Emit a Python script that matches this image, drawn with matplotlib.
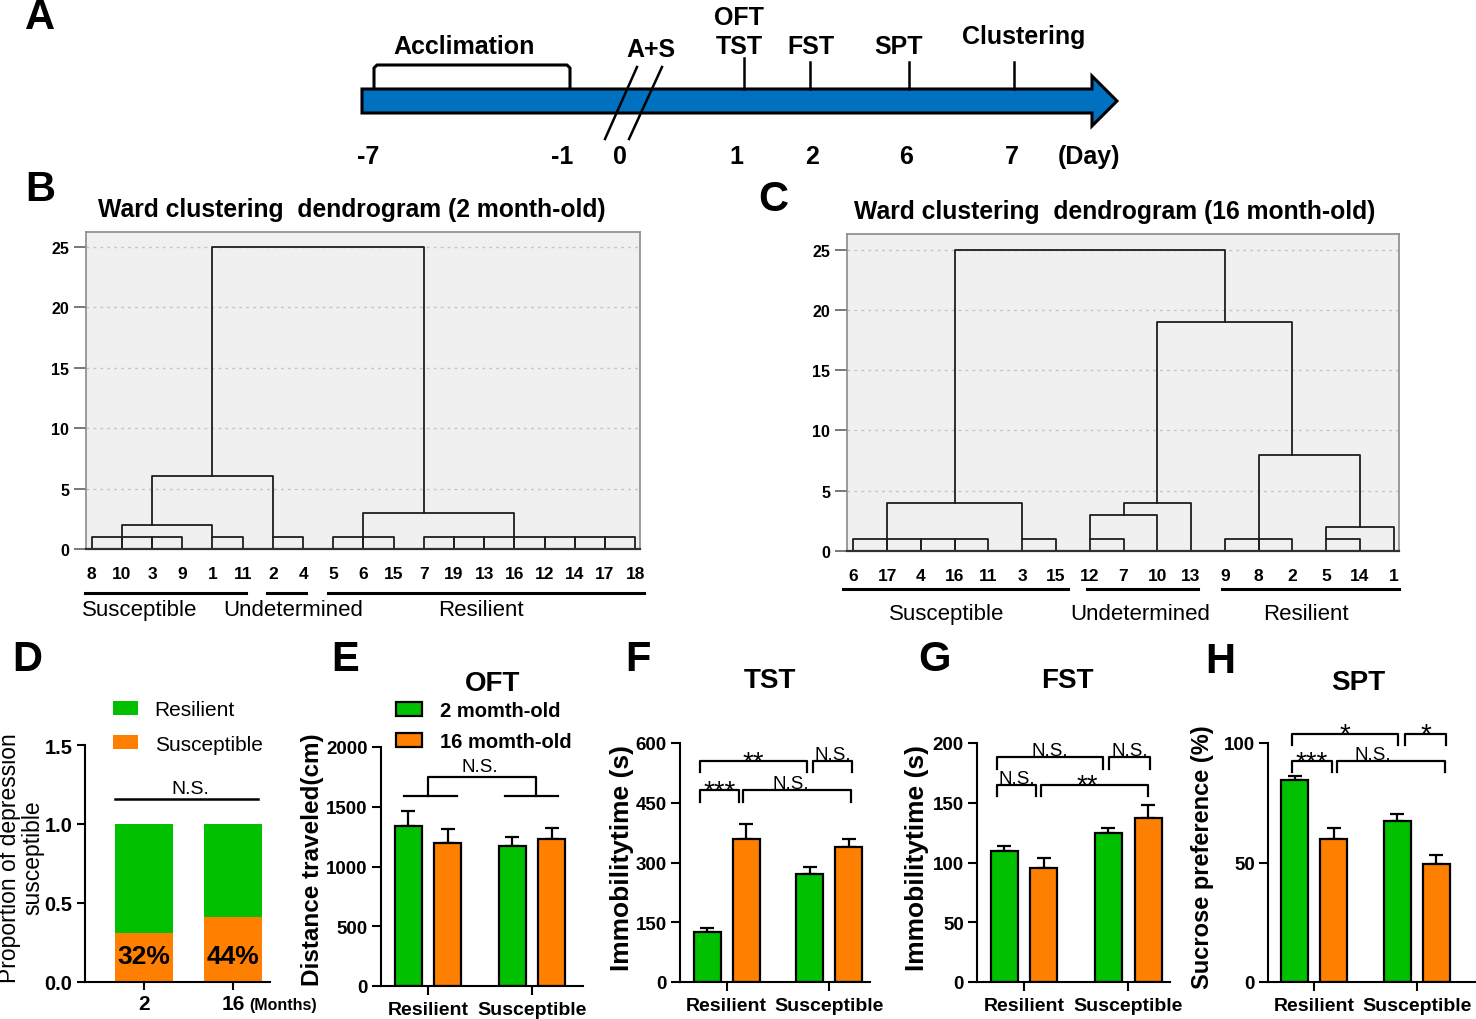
import matplotlib
matplotlib.use('Agg')
import matplotlib.pyplot as plt
import numpy as np
from matplotlib.patches import Polygon
from matplotlib.transforms import blended_transform_factory

plt.rcParams['font.family'] = ['Liberation Sans', 'DejaVu Sans']
NARROW = ['Liberation Sans Narrow', 'Liberation Sans', 'DejaVu Sans']

W, H = 1476, 1020
GREEN = '#00c000'
ORANGE = '#ff8000'
BLUE = '#0070c0'

# ---------------- data ----------------
# A: timeline
day_labels = ['-7', '-1', '0', '1', '2', '6', '7', '(Day)']
day_x = [368, 562, 620, 736, 812, 906, 1012, 1089]
event_labels = ['OFT\nTST', 'FST', 'SPT', 'Clustering']
event_x = [744, 810, 909, 1014]

# B / C: dendrograms  (links: left leaf, right leaf, height, left base, right base)
leaves_2m = ['8', '10', '3', '9', '1', '11', '2', '4', '5', '6', '15', '7',
             '19', '13', '16', '12', '14', '17', '18']
links_2m = [(0, 1, 1, 0, 0), (1, 2, 1, 0, 0), (2, 3, 1, 0, 0), (4, 5, 1, 0, 0),
            (6, 7, 1, 0, 0), (8, 9, 1, 0, 0), (9, 10, 1, 0, 0),
            (11, 12, 1, 0, 0), (12, 13, 1, 0, 0), (13, 14, 1, 0, 0), (14, 15, 1, 0, 0),
            (15, 16, 1, 0, 0), (16, 17, 1, 0, 0), (17, 18, 1, 0, 0),
            (1, 4, 2, 1, 1), (2, 6, 6, 2, 1), (9, 14, 3, 1, 1), (4, 11, 25, 6, 3)]
groups_2m = [('Susceptible', -0.23, 5.12, 1.6), ('Undetermined', 5.82, 7.1, 6.68),
             ('Resilient', 7.84, 18.3, 12.88)]

leaves_16m = ['6', '17', '4', '16', '11', '3', '15', '12', '7', '10', '13',
              '9', '8', '2', '5', '14', '1']
links_16m = [(0, 1, 1, 0, 0), (1, 2, 1, 0, 0), (2, 3, 1, 0, 0), (3, 4, 1, 0, 0),
             (5, 6, 1, 0, 0), (7, 8, 1, 0, 0), (11, 12, 1, 0, 0), (12, 13, 1, 0, 0),
             (14, 15, 1, 0, 0),
             (14, 16, 2, 1, 0), (7, 9, 3, 1, 0), (8, 10, 4, 3, 0), (1, 5, 4, 1, 1),
             (12, 15, 8, 1, 2), (9, 13, 19, 4, 8), (3, 11, 25, 4, 19)]
groups_16m = [('Susceptible', -0.3, 6.37, 2.76), ('Undetermined', 6.93, 10.2, 8.5),
              ('Resilient', 10.93, 16.15, 13.4)]

# D: proportion susceptible
months = ['2', '16']
susc_frac = [0.31, 0.41]
susc_pct = ['32%', '44%']

# E-H: [Resilient, Susceptible]
groups = ['Resilient', 'Susceptible']
ages = ['2 momth-old', '16 momth-old']
oft_2m, oft_2m_err = [1342, 1169], [126, 76]
oft_16m, oft_16m_err = [1197, 1231], [118, 89]
tst_2m, tst_2m_err = [126, 271], [10, 18]
tst_16m, tst_16m_err = [360, 340], [36, 20]
fst_2m, fst_2m_err = [110, 125], [4, 4]
fst_16m, fst_16m_err = [95, 137], [9, 11]
spt_2m, spt_2m_err = [84.4, 67.2], [2, 3.2]
spt_16m, spt_16m_err = [60, 49.5], [4.4, 3.5]

# significance brackets: x1, x2, height, drop, label, text x
sig_tst = [(-0.26, 0.123, 481, 29, '***', None), (0.162, 1.21, 481, 29, 'N.S.', 0.63),
           (-0.26, 0.78, 554, 27, '**', None), (0.838, 1.224, 554, 27, 'N.S.', None)]
sig_fst = [(-0.26, 0.115, 165, 9.7, 'N.S.', None), (0.163, 1.19, 165, 9.7, '**', 0.61),
           (-0.26, 0.76, 188, 9.8, 'N.S.', None), (0.818, 1.208, 188, 9.8, 'N.S.', None)]
sig_spt = [(-0.217, 0.172, 92.3, 4.4, '***', None), (0.221, 1.276, 92.3, 4.4, 'N.S.', 0.57),
           (-0.217, 0.82, 103.9, 4.6, '*', None), (0.886, 1.285, 103.9, 4.6, '*', None)]

fig = plt.figure(figsize=(W / 100, H / 100), dpi=100)


def box(l, t, r, b):
    return fig.add_axes([l / W, 1 - b / H, (r - l) / W, (b - t) / H])


def ftext(x, y, s, **kw):
    kw.setdefault('ha', 'center')
    kw.setdefault('va', 'center')
    fig.text(x / W, 1 - y / H, s, **kw)


# ---------------- A: timeline ----------------
axA = box(0, 0, W, 180)
axA.set_xlim(0, W)
axA.set_ylim(180, 0)
axA.axis('off')
axA.add_patch(Polygon([(362, 90), (1092, 90), (1092, 77), (1117, 102), (1092, 127),
                       (1092, 114), (362, 114)], closed=True, fc=BLUE, ec='black', lw=2.2))
axA.plot([374, 374, 377, 567, 570, 570], [89, 69, 66, 66, 69, 89], color='black', lw=2.2)
axA.plot([605, 637], [140, 68], color='black', lw=1.8)
axA.plot([629, 662], [140, 68], color='black', lw=1.8)
for x, top in zip(event_x, [59, 63, 63, 63]):
    axA.plot([x, x], [top, 90], color='black', lw=1.8)
tl = dict(fontsize=18, fontweight='bold', ha='center', va='center')
axA.text(464, 47, 'Acclimation', **tl)
axA.text(651, 50, 'A+S', **tl)
axA.text(739, 18, 'OFT', **tl)
axA.text(739, 47, 'TST', **tl)
axA.text(811, 47, event_labels[1], **tl)
axA.text(899, 47, event_labels[2], **tl)
axA.text(1024, 37, event_labels[3], **tl)
for x, s in zip(day_x, day_labels):
    axA.text(x, 157, s, **tl)


# ---------------- B / C: dendrograms ----------------
def dendro(rect, leaves, links, grp, ytop, y_line, y_lab, title, title_xy):
    ax = box(*rect)
    ax.set_facecolor('#f0f0f0')
    for a, b, h, ya, yb in links:
        ax.plot([a, a, b, b], [ya, h, h, yb], color='#1e1e1e', lw=1.3)
    n = len(leaves)
    ax.set_xlim(-0.19, n - 1 + 0.16)
    ax.set_ylim(0, ytop)
    ax.set_yticks(range(0, 26, 5))
    ax.set_xticks(range(n), leaves)
    ax.yaxis.grid(True, linestyle=(0, (2, 3)), color='#c4c4c4', lw=1)
    ax.set_axisbelow(True)
    for s in ax.spines.values():
        s.set_color('#8a8a8a')
        s.set_linewidth(1.2)
    ax.spines['bottom'].set_color('#303030')
    ax.spines['bottom'].set_linewidth(1.6)
    ax.tick_params(axis='y', length=9, width=1.2, color='#606060', pad=3)
    ax.tick_params(axis='x', length=0, pad=12)
    for lbl in ax.get_yticklabels():
        lbl.set_family(NARROW)
        lbl.set_fontweight('bold')
        lbl.set_fontsize(11.5)
    for lbl in ax.get_xticklabels():
        lbl.set_family(NARROW)
        lbl.set_fontweight('bold')
        lbl.set_fontsize(12.5)
    tr = blended_transform_factory(ax.transData, ax.transAxes)
    for name, x0, x1, xt in grp:
        ax.plot([x0, x1], [y_line, y_line], color='black', lw=2.2, transform=tr, clip_on=False)
        ax.text(xt, y_lab, name, transform=tr, ha='center', va='center', fontsize=16)
    ftext(*title_xy, title, fontsize=17.8, fontweight='bold')
    return ax


dendro((86, 233, 640, 550), leaves_2m, links_2m, groups_2m, 26.2, -0.139, -0.192,
       'Ward clustering  dendrogram (2 month-old)', (352, 210))
dendro((847, 235, 1399, 552), leaves_16m, links_16m, groups_16m, 26.3, -0.12, -0.196,
       'Ward clustering  dendrogram (16 month-old)', (1115, 212))


# ---------------- D ----------------
axD = box(85, 746, 270, 983)
xd = np.arange(len(months))
sus = np.array(susc_frac)
b_sus = axD.bar(xd, sus, 0.65, color=ORANGE)
b_res = axD.bar(xd, 1 - sus, 0.65, bottom=sus, color=GREEN)
axD.set_xlim(-0.663, 1.416)
axD.set_ylim(0, 1.5)
axD.set_yticks([0, 0.5, 1.0, 1.5], ['0.0', '0.5', '1.0', '1.5'])
axD.set_xticks(xd, months)
for s in ('top', 'right'):
    axD.spines[s].set_visible(False)
for s in ('left', 'bottom'):
    axD.spines[s].set_linewidth(1.5)
axD.tick_params(direction='out', length=6, width=1.5, pad=3, labelsize=14.5)
axD.tick_params(axis='x', labelsize=15)
plt.setp(axD.get_xticklabels() + axD.get_yticklabels(), fontweight='bold')
for x, y, s in zip(xd, sus, susc_pct):
    axD.text(x, 0.165, s, ha='center', va='center', fontsize=19, fontweight='bold')
axD.plot([-0.326, 1.28], [1.158, 1.158], color='black', lw=1.8, clip_on=False)
axD.annotate('N.S.', (0.517, 1.158), xytext=(0, 4), textcoords='offset points',
             ha='center', va='baseline', fontsize=14, annotation_clip=False)
axD.legend([b_res, b_sus], ['Resilient', 'Susceptible'], loc='upper left',
           bbox_to_anchor=(113 / W, 1 - 701 / H), bbox_transform=fig.transFigure,
           frameon=False, fontsize=15, handlelength=1.2, handleheight=0.67,
           handletextpad=0.8, labelspacing=0.75, borderpad=0, borderaxespad=0)
ftext(21, 858, 'Proportion of depression\nsusceptible', rotation=90, fontsize=16.5,
      linespacing=1.0)
ftext(283, 1006, '(Months)', fontsize=11.5, fontweight='bold')


# ---------------- E-H ----------------
def bar_panel(rect, xlim, v2, e2, v16, e16, ylim, yticks):
    ax = box(*rect)
    x = np.arange(len(groups))
    ax.errorbar(x - 0.19, v2, yerr=[np.zeros(2), e2], fmt='none', ecolor='black',
                elinewidth=1.6, capsize=5, capthick=1.6, zorder=1)
    ax.errorbar(x + 0.19, v16, yerr=[np.zeros(2), e16], fmt='none', ecolor='black',
                elinewidth=1.6, capsize=5, capthick=1.6, zorder=1)
    b1 = ax.bar(x - 0.19, v2, 0.26, color=GREEN, edgecolor='black', lw=1.6, zorder=2)
    b2 = ax.bar(x + 0.19, v16, 0.26, color=ORANGE, edgecolor='black', lw=1.6, zorder=2)
    ax.set_xlim(*xlim)
    ax.set_ylim(*ylim)
    ax.set_yticks(yticks)
    ax.set_xticks(x, groups)
    for s in ('top', 'right'):
        ax.spines[s].set_visible(False)
    for s in ('left', 'bottom'):
        ax.spines[s].set_linewidth(1.5)
    ax.tick_params(direction='out', length=6.5, width=1.5, pad=3, labelsize=13.5)
    ax.tick_params(axis='x', labelsize=14, pad=4)
    plt.setp(ax.get_xticklabels() + ax.get_yticklabels(), fontweight='bold')
    return ax, b1, b2


def brackets(ax, sig):
    for x1, x2, y, drop, lab, tx in sig:
        ax.plot([x1, x1, x2, x2], [y - drop, y, y, y - drop], color='black', lw=1.6,
                clip_on=False)
        tx = (x1 + x2) / 2 if tx is None else tx
        if lab.startswith('*'):
            ax.annotate(lab, (tx, y), xytext=(0, -5.5), textcoords='offset points',
                        ha='center', va='baseline', fontsize=20, annotation_clip=False)
        else:
            ax.annotate(lab, (tx, y), xytext=(0, 1.5), textcoords='offset points',
                        ha='center', va='baseline', fontsize=13.5, annotation_clip=False)


def ylab(x, y, s, size):
    ftext(x, y, s, rotation=90, fontsize=size, fontweight='bold')


axE, bE1, bE2 = bar_panel((381, 748, 583, 987), (-0.452, 1.49), oft_2m, oft_2m_err,
                          oft_16m, oft_16m_err, (0, 2000), [0, 500, 1000, 1500, 2000])
axE.plot([-0.23, 0.28], [1591, 1591], color='black', lw=1.6, clip_on=False)
axE.plot([0.74, 1.25], [1591, 1591], color='black', lw=1.6, clip_on=False)
axE.plot([0, 0, 1.04, 1.04], [1591, 1748, 1748, 1591], color='black', lw=1.6, clip_on=False)
axE.annotate('N.S.', (0.5, 1748), xytext=(0, 4.5), textcoords='offset points',
             ha='center', va='baseline', fontsize=13.5, annotation_clip=False)
axE.legend([bE1, bE2], ages, loc='upper left', bbox_to_anchor=(396 / W, 1 - 702 / H),
           bbox_transform=fig.transFigure, frameon=False,
           prop={'weight': 'bold', 'size': 14.5}, handlelength=1.3, handleheight=0.65,
           handletextpad=0.9, labelspacing=0.6, borderpad=0, borderaxespad=0)
ylab(312, 860, 'Distance traveled(cm)', 17.5)
ftext(493, 684, 'OFT', fontsize=20, fontweight='bold')

axF, _, _ = bar_panel((680, 744, 870, 983), (-0.455, 1.397), tst_2m, tst_2m_err,
                      tst_16m, tst_16m_err, (0, 600), [0, 150, 300, 450, 600])
brackets(axF, sig_tst)
ylab(622, 858, 'Immobilitytime (s)', 19)
ftext(770, 681, 'TST', fontsize=20, fontweight='bold')

axG, _, _ = bar_panel((977, 744, 1170, 983), (-0.45, 1.40), fst_2m, fst_2m_err,
                      fst_16m, fst_16m_err, (0, 200), [0, 50, 100, 150, 200])
brackets(axG, sig_fst)
ylab(917, 858, 'Immobilitytime (s)', 19)
ftext(1067, 681, 'FST', fontsize=20, fontweight='bold')

axH, _, _ = bar_panel((1268, 744, 1476, 983), (-0.448, 1.577), spt_2m, spt_2m_err,
                      spt_16m, spt_16m_err, (0, 100), [0, 50, 100])
brackets(axH, sig_spt)
ylab(1202, 857, 'Sucrose preference (%)', 17)
ftext(1358, 683, 'SPT', fontsize=20, fontweight='bold')

# panel letters
for s, x, y in [('A', 40, 18), ('B', 40, 190), ('C', 773, 200), ('D', 27, 660),
                ('E', 345, 660), ('F', 638, 660), ('G', 935, 660), ('H', 1220, 662)]:
    ftext(x, y, s, fontsize=30, fontweight='bold')

fig.savefig('out.png', dpi=100)
